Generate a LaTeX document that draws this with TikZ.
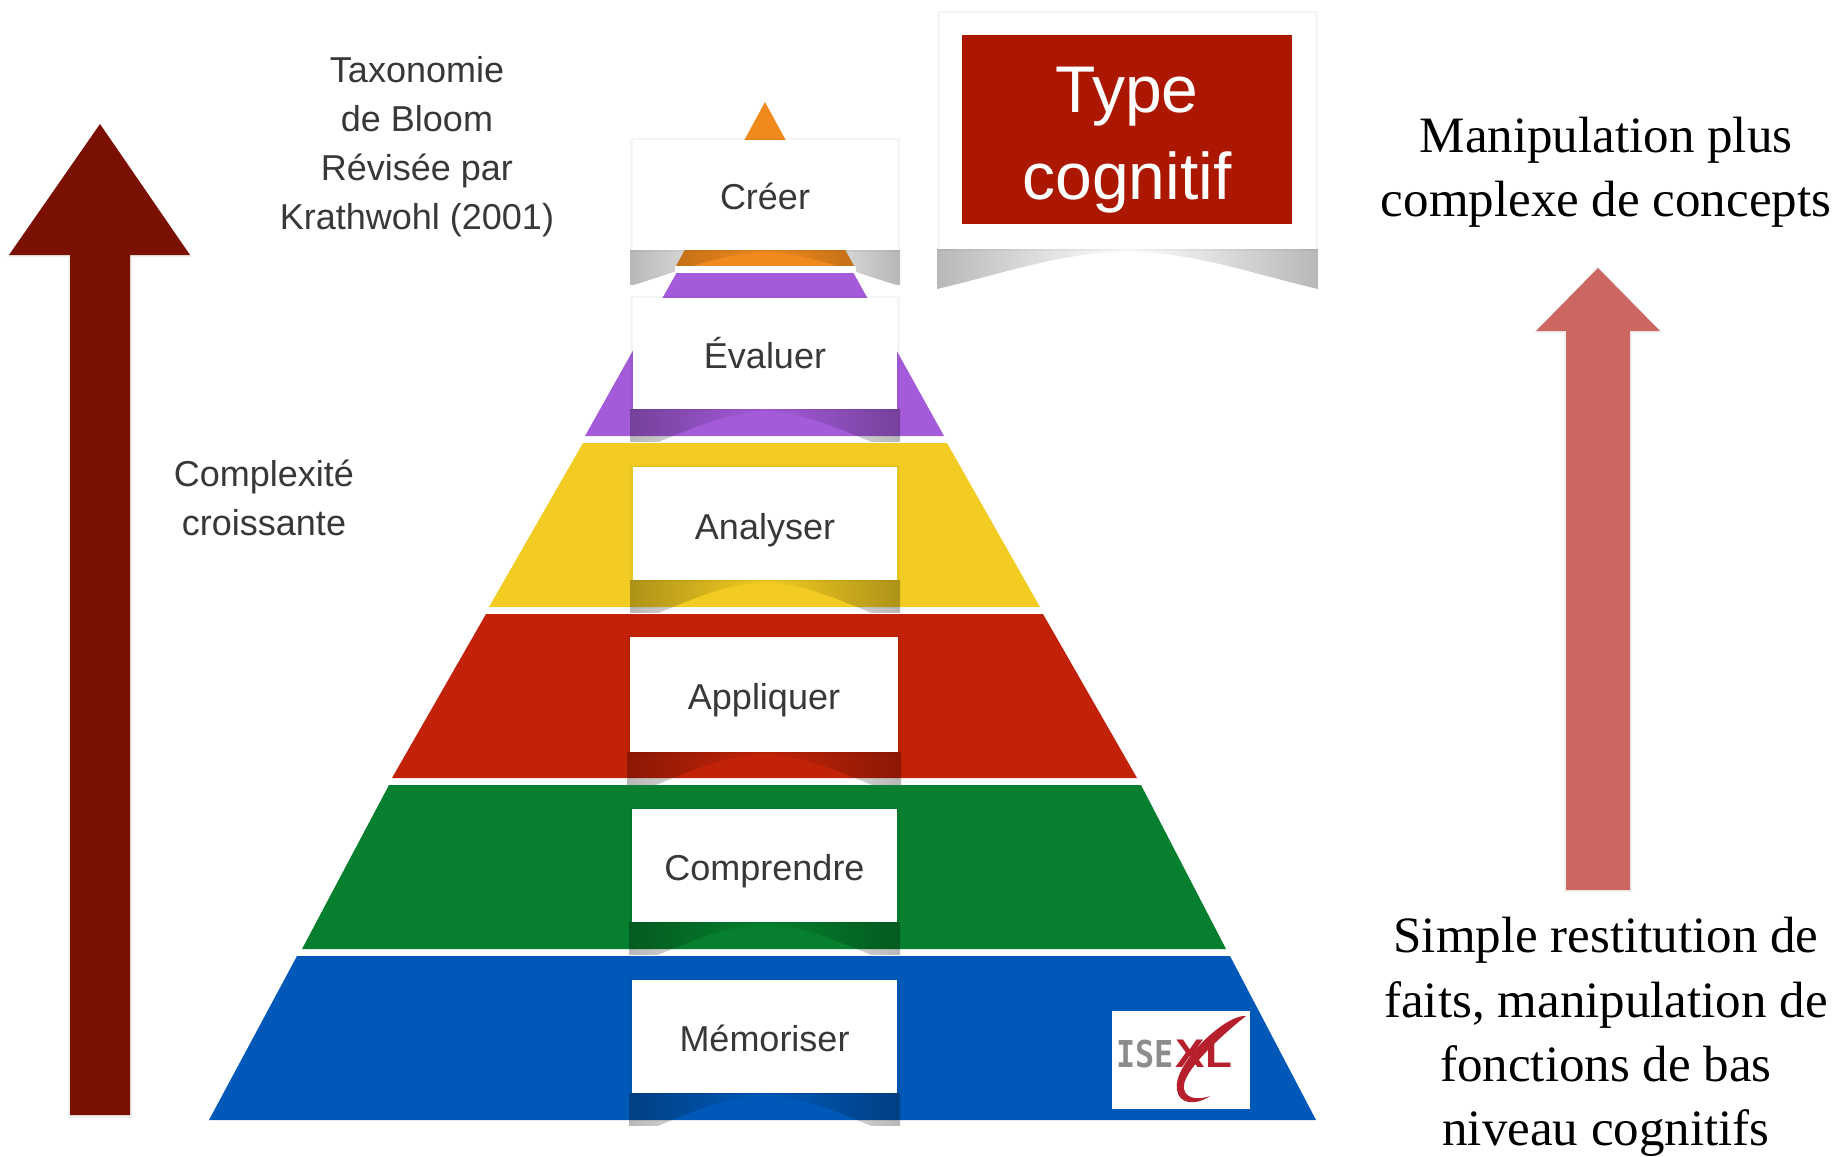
\documentclass[tikz,border=0pt]{standalone}
\usepackage{fontspec}
\setmainfont{Liberation Sans}
\newfontfamily\serifface{Liberation Serif}
\newfontfamily\monoface{DejaVu Sans Mono}
\usetikzlibrary{fadings}
\definecolor{cOrange}{HTML}{F08A1D}
\definecolor{cPurple}{HTML}{A45BD9}
\definecolor{cYellow}{HTML}{F2CC22}
\definecolor{cRed}{HTML}{C22308}
\definecolor{cGreen}{HTML}{067F2E}
\definecolor{cBlue}{HTML}{0059B8}
\definecolor{cDark}{HTML}{7A1000}
\definecolor{cSoft}{HTML}{CC6660}
\definecolor{cTitle}{HTML}{AC1700}
\definecolor{cText}{HTML}{383838}
\definecolor{cLogo}{HTML}{B5202C}
\tikzfading[name=shleft, left color=transparent!72, middle color=transparent!5, right color=transparent!100]
\tikzfading[name=shright, left color=transparent!100, middle color=transparent!5, right color=transparent!72]
\tikzset{
  labelbox/.style={fill=white, draw=none, inner sep=0pt, outer sep=0pt},
  cardtext/.style={inner sep=0pt, text=cText, font=\fontsize{36}{36}\selectfont},
  sidetext/.style={align=center, text=cText, inner sep=0pt, font=\fontsize{36}{49}\selectfont},
  serifnote/.style={align=center, text=black, inner sep=0pt, font=\serifface\fontsize{51}{64.3}\selectfont},
}
% x0 x1 ybottom ytop visible-depth curve-depth
\newcommand{\curlshade}[6]{%
  \pgfmathsetmacro{\xm}{(#1+#2)/2}%
  \pgfmathsetmacro{\wq}{(#2-#1)/2}%
  \pgfmathsetmacro{\xa}{#1+0.35*\wq}%
  \pgfmathsetmacro{\xb}{\xm-0.35*\wq}%
  \pgfmathsetmacro{\xc}{\xm+0.35*\wq}%
  \pgfmathsetmacro{\xd}{#2-0.35*\wq}%
  \pgfmathsetmacro{\yd}{#3+#6}%
  \pgfmathsetmacro{\ya}{#3+0.6*#6}%
  \pgfmathsetmacro{\ym}{#3+3}%
  \fill[black,opacity=.04] (#1-3,#4-2) rectangle (#2+3,#3+2);
  \begin{scope}
  \clip (#1-4,#3) rectangle (#2+4,#3+#5);
  \fill[black,path fading=shleft] (#1-3,#3) -- (#1-3,\yd) .. controls (\xa,\ya) and (\xb,\ym) .. (\xm,\ym) -- (\xm,#3) -- cycle;
  \fill[black,path fading=shright] (\xm,#3) -- (\xm,\ym) .. controls (\xc,\ym) and (\xd,\ya) .. (#2+3,\yd) -- (#2+3,#3) -- cycle;
  \end{scope}
}
\begin{document}
\begin{tikzpicture}[x=1pt,y=-1pt]
\useasboundingbox (0,0) rectangle (1841,1156);
\fill[white] (0,0) rectangle (1841,1156);

% big arrows
\fill[black,opacity=.06] (100,124) -- (192,257) -- (132,257) -- (132,1118) -- (68,1118) -- (68,257) -- (7,257) -- cycle;
\fill[cDark] (100,124) -- (190,255) -- (130,255) -- (130,1115) -- (70,1115) -- (70,255) -- (9,255) -- cycle;
\fill[black,opacity=.05] (1598,266) -- (1662,333) -- (1632,333) -- (1632,892) -- (1564,892) -- (1564,333) -- (1534,333) -- cycle;
\fill[cSoft] (1598,268) -- (1660,331) -- (1630,331) -- (1630,890) -- (1566,890) -- (1566,331) -- (1536,331) -- cycle;

% pyramid layers
\fill[cOrange] (765,102) -- (676,266) -- (854,266) -- cycle;
% Creer shadow lies under the purple layer
\curlshade{633}{897}{250}{140}{34}{36}
\fill[white] (675,266) rectangle (856,272);
\fill[cPurple] (676.5,273) -- (853.5,273) -- (944,436) -- (585,436) -- cycle;
\fill[cYellow] (583,443) -- (947,443) -- (1040,607) -- (489,607) -- cycle;
\fill[cRed] (486,614) -- (1043,614) -- (1137,778) -- (392,778) -- cycle;
\fill[cGreen] (389,785) -- (1141,785) -- (1226,949) -- (302,949) -- cycle;
\fill[cBlue] (297,956) -- (1230,956) -- (1316,1120) -- (209,1120) -- cycle;

% card shadows
\curlshade{633}{897}{409}{298}{32}{44}
\curlshade{633}{897}{580}{467}{32}{44}
\curlshade{630}{898}{752}{637}{32}{44}
\curlshade{632}{897}{922}{809}{32}{44}
\curlshade{632}{897}{1093}{980}{32}{44}

% cards
\node[labelbox, minimum width=264pt, minimum height=110pt] (creer) at (765,195) {};
\node[cardtext, yshift=-1pt] (creerT) at (creer.center) {Créer};
\node[labelbox, minimum width=264pt, minimum height=111pt] (evaluer) at (765,353.5) {};
\node[cardtext] (evaluerT) at (evaluer.center) {Évaluer};
\node[labelbox, minimum width=264pt, minimum height=113pt] (analyser) at (765,523.5) {};
\node[cardtext, yshift=-7pt] (analyserT) at (analyser.center) {Analyser};
\node[labelbox, minimum width=268pt, minimum height=115pt] (appliquer) at (764,694.5) {};
\node[cardtext, yshift=-6pt] (appliquerT) at (appliquer.center) {Appliquer};
\node[labelbox, minimum width=265pt, minimum height=113pt] (comprendre) at (764.5,865.5) {};
\node[cardtext, yshift=-6pt] (comprendreT) at (comprendre.center) {Comprendre};
\node[labelbox, minimum width=265pt, minimum height=113pt] (memoriser) at (764.5,1036.5) {};
\node[cardtext, yshift=-2pt] (memoriserT) at (memoriser.center) {Mémoriser};

% title card
\curlshade{940}{1315}{249}{13}{40}{40}
\node[fill=white, inner sep=0pt, minimum width=375pt, minimum height=236pt] (titlecard) at (1127.5,131) {};
\node[fill=cTitle, inner sep=0pt, minimum width=330pt, minimum height=189pt] (titlered) at (1127,129.5) {};
\node[text=white, align=center, inner sep=0pt, font=\fontsize{66}{87}\selectfont] (titletext) at (1127,140) {Type\\cognitif};

% side texts
\node[sidetext] (taxo) at (417,147) {Taxonomie\\de Bloom\\Révisée par\\Krathwohl (2001)};
\node[sidetext] (compl) at (264,498) {Complexité\\croissante};
\node[serifnote] (high) at (1606,172) {Manipulation plus\\complexe de concepts};
\node[serifnote] (low) at (1606,1037) {Simple restitution de\\faits, manipulation de\\fonctions de bas\\niveau cognitifs};

% logo
\node[fill=white, inner sep=0pt, minimum width=138pt, minimum height=98pt] (logo) at (1181,1060) {};
\fill[cLogo] (1246,1016) .. controls (1225,1014) and (1172,1065) .. (1177,1090)
  .. controls (1179,1104) and (1195,1106) .. (1210,1096)
  .. controls (1196,1101) and (1182,1098) .. (1184,1084)
  .. controls (1188,1065) and (1228,1030) .. (1246,1016) -- cycle;
\node[text=black!45, inner sep=0pt, xscale=.86, font=\monoface\bfseries\fontsize{37}{37}\selectfont] (logoise) at (1145,1054) {ISE};
\node[text=cLogo, inner sep=0pt, xscale=1.1, font=\bfseries\fontsize{40}{40}\selectfont] (logoxl) at (1204,1054) {XL};
\end{tikzpicture}
\end{document}
